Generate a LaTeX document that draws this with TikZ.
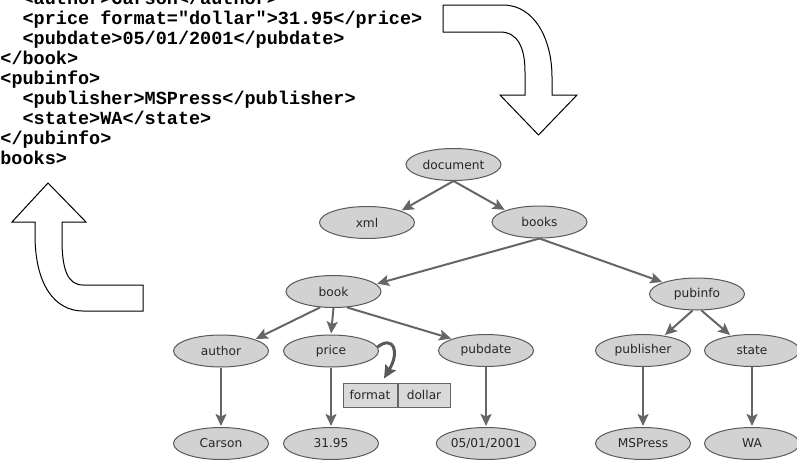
\documentclass[tikz,border=0pt]{standalone}
\usepackage{fontspec}
\newfontfamily\codefont{Liberation Mono}
\newfontfamily\labelfont{DejaVu Sans}
\usetikzlibrary{arrows.meta,shapes.geometric}

\begin{document}
\begin{tikzpicture}[x=1pt,y=-1pt,
  elem/.style={ellipse,draw=black!65,line width=1pt,fill=gray!35,
    minimum width=95pt,minimum height=32pt,inner sep=0pt,
    font=\labelfont\fontsize{12.2}{14}\selectfont,text=black!85},
  attr/.style={rectangle,draw=black!60,line width=1pt,fill=gray!30,
    minimum height=24pt,inner sep=0pt,
    font=\labelfont\fontsize{12.2}{14}\selectfont,text=black!85},
  link/.style={draw=black!60,line width=2pt,
    -{Stealth[length=12pt,width=11pt,inset=2.5pt]},shorten >=1pt},
  curl/.style={draw=black!65,line width=3pt,
    -{Stealth[length=13pt,width=12pt,inset=2pt]}},
  codeline/.style={anchor=base west,inner sep=0pt,
    font=\codefont\bfseries\fontsize{18.5}{20}\selectfont},
  bigarrow/.style={draw=black,line width=1pt,fill=white,line join=miter}
]
\useasboundingbox (0,0) rectangle (797,461);
\clip (0,0) rectangle (797,461);

% XML source listing (column width 11.1pt)
\node[codeline] (l1) at (22.4,4.5)  {<author>Carson</author>};
\node[codeline] (l2) at (22.4,24)   {<price format="dollar">31.95</price>};
\node[codeline] (l3) at (22.4,44)   {<pubdate>05/01/2001</pubdate>};
\node[codeline] (l4) at (0.2,64)    {</book>};
\node[codeline] (l5) at (0.2,84)    {<pubinfo>};
\node[codeline] (l6) at (22.4,104)  {<publisher>MSPress</publisher>};
\node[codeline] (l7) at (22.4,124)  {<state>WA</state>};
\node[codeline] (l8) at (0.2,144)   {</pubinfo>};
\node[codeline] (l9) at (-22,164)   {</books>};

% block arrow: listing -> tree
\path[bigarrow] (443,5) -- (503,5)
  .. controls (535,5) and (552,40) .. (552,77) -- (552,95) -- (577,95)
  -- (538.5,135) -- (500,95) -- (525,95) -- (525,72)
  .. controls (525,48) and (518,32) .. (500,32) -- (443,32) -- cycle;

% block arrow: tree -> listing
\path[bigarrow] (35,222) -- (35,235)
  .. controls (35,285) and (55,311) .. (83,311) -- (143,311) -- (143,285)
  -- (83,285) .. controls (68,285) and (62,270) .. (62,240) -- (62,222)
  -- (86,222) -- (48,183) -- (12,222) -- cycle;

% tree nodes
\node[elem] (document)  at (453.5,164.5) {document};
\node[elem] (xml)       at (367,222.5)   {xml};
\node[elem] (books)     at (539.5,222)   {books};
\node[elem] (book)      at (333.5,291.5) {book};
\node[elem] (pubinfo)   at (697,294)     {pubinfo};
\node[elem] (author)    at (221,351)     {author};
\node[elem] (price)     at (331,351)     {price};
\node[elem] (pubdate)   at (486,350.5)   {pubdate};
\node[elem] (publisher) at (643,350.5)   {publisher};
\node[elem] (state)     at (752,350.5)   {state};
\node[elem] (carson)    at (221,443.5)   {Carson};
\node[elem] (amount)    at (331,443.5)   {31.95};
\node[elem] (date)      at (486,443.5)   {05/01/2001};
\node[elem] (mspress)   at (643,443.5)   {MSPress};
\node[elem] (wa)        at (752,443.5)   {WA};

% attribute of price
\node[attr,minimum width=54pt] (format) at (370,395) {format};
\node[attr,minimum width=52pt,anchor=west] (dollar) at (format.east) {dollar};

% tree edges
\draw[link] (document.south) -- (xml.north east);
\draw[link] (document.south) -- (books.north west);
\draw[link] (books.south) -- (book.10);
\draw[link] (books.south) -- (pubinfo.north west);
\draw[link] (book.-130) -- (author.north east);
\draw[link] (book.south) -- (price.north);
\draw[link] (book.-50) -- (pubdate.north west);
\draw[link] (pubinfo.-105) -- (publisher.35);
\draw[link] (pubinfo.-75) -- (state.145);
\draw[link] (author) -- (carson);
\draw[link] (price) -- (amount);
\draw[link] (pubdate) -- (date);
\draw[link] (publisher) -- (mspress);
\draw[link] (state) -- (wa);
\draw[curl] (price.5) .. controls +(16,-12) and +(16,-27)
  .. ([xshift=14pt,yshift=4pt]format.north);
\end{tikzpicture}
\end{document}
